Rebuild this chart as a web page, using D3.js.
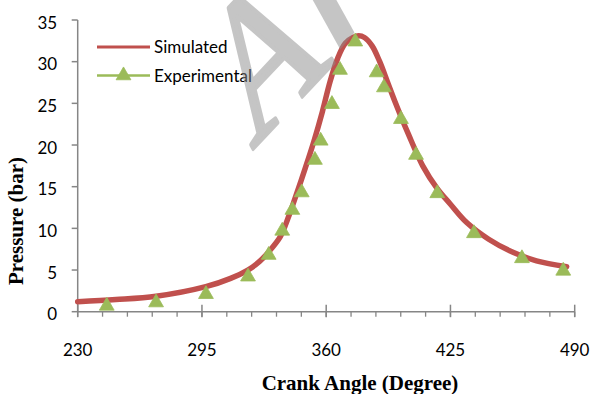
<!DOCTYPE html>
<html>
<head>
<meta charset="utf-8">
<script src="https://cdn.jsdelivr.net/npm/d3@7/dist/d3.min.js"></script>
<style>
  html, body { margin: 0; padding: 0; background: #fff; }
  svg { display: block; }
</style>
</head>
<body>
<div id="chart"></div>
<script>
// ── Data ───────────────────────────────────────────────────────────────────
const simAngle = [230, 250, 271, 297, 310, 319, 325, 330, 336, 340, 344, 349, 353.5, 358, 362, 366,
                  370, 374, 377, 380, 384, 388, 392, 396, 403, 410.5, 418, 425, 433.5, 445, 458, 470, 485.8];
const simPressure = [1.2, 1.45, 1.85, 3.0, 4.0, 5.0, 6.0, 7.2, 9.0, 11.2, 13.8, 17.2, 20.4, 24.0, 27.6, 30.4,
                     32.2, 32.9, 33.1, 32.9, 31.9, 30.0, 27.6, 25.2, 21.3, 17.5, 14.8, 12.9, 10.7, 8.7, 7.1, 6.1, 5.4];

const expAngle = [245.2, 271, 297.1, 319.1, 329.9, 337, 342.3, 347.2, 354.1, 357.1, 363, 367.2,
                  375.2, 386.4, 390.2, 399.1, 407, 418.1, 437.3, 462.4, 484];
const expPressure = [0.7, 1.1, 2.1, 4.2, 6.8, 9.7, 12.2, 14.3, 18.2, 20.5, 24.9, 29.0,
                     32.4, 28.7, 26.9, 23.1, 18.8, 14.2, 9.4, 6.4, 4.9];

const xTicks = [230, 295, 360, 425, 490];
const xMinor = d3.range(230, 491, 13);
const yTicks = [0, 5, 10, 15, 20, 25, 30, 35];

const SERIES = [
  { name: 'Simulated', color: '#c0504d' },
  { name: 'Experimental', color: '#9bbb59' },
];

// ── Layout ─────────────────────────────────────────────────────────────────
const W = 593, H = 394;
const AXIS = '#868686';
const LABEL_FONT = 'Lato, "Open Sans", sans-serif';
const TITLE_FONT = '"Liberation Serif", "Times New Roman", serif';

const x = d3.scaleLinear().domain([230, 490]).range([77.7, 574.7]);
const y = d3.scaleLinear().domain([0, 35]).range([311.7, 20]);

const svg = d3.select('#chart').append('svg').attr('width', W).attr('height', H);

// ── Axes ───────────────────────────────────────────────────────────────────
const gx = svg.append('g').attr('transform', `translate(0,${y(0)})`);
gx.append('line').attr('x1', x(230)).attr('x2', x(490)).attr('stroke', AXIS).attr('stroke-width', 1.5);
gx.selectAll('.minor').data(xMinor).join('line')
  .attr('x1', d => x(d)).attr('x2', d => x(d))
  .attr('y1', 0).attr('y2', 5)
  .attr('stroke', AXIS).attr('stroke-width', 1.3);
gx.selectAll('.major').data(xTicks).join('line')
  .attr('x1', d => x(d)).attr('x2', d => x(d))
  .attr('y1', -7).attr('y2', 5.5)
  .attr('stroke', AXIS).attr('stroke-width', 1.5);
gx.selectAll('text').data(xTicks).join('text')
  .attr('x', d => x(d)).attr('y', 44)
  .attr('text-anchor', 'middle')
  .attr('font-family', LABEL_FONT).attr('font-size', '17px').attr('fill', '#000')
  .text(d => d);

const gy = svg.append('g').attr('transform', `translate(${x(230)},0)`);
gy.append('line').attr('y1', y(35)).attr('y2', y(0)).attr('stroke', AXIS).attr('stroke-width', 1.5);
gy.selectAll('.tick').data(yTicks).join('line')
  .attr('x1', -6).attr('x2', 0)
  .attr('y1', d => y(d)).attr('y2', d => y(d))
  .attr('stroke', AXIS).attr('stroke-width', 1.5);
gy.selectAll('text').data(yTicks).join('text')
  .attr('x', -20.5).attr('y', d => y(d) + 8.5)
  .attr('text-anchor', 'end')
  .attr('font-family', LABEL_FONT).attr('font-size', '17px').attr('fill', '#000')
  .text(d => d);

// Axis titles
svg.append('text')
  .attr('x', 360).attr('y', 390)
  .attr('text-anchor', 'middle')
  .attr('font-family', TITLE_FONT).attr('font-weight', 'bold').attr('font-size', '21px')
  .text('Crank Angle (Degree)');
svg.append('text')
  .attr('transform', 'translate(23,221) rotate(-90)')
  .attr('text-anchor', 'middle')
  .attr('font-family', TITLE_FONT).attr('font-weight', 'bold').attr('font-size', '21px')
  .text('Pressure (bar)');

// ── Series ─────────────────────────────────────────────────────────────────
const sim = simAngle.map((a, i) => [a, simPressure[i]]);
const exp = expAngle.map((a, i) => [a, expPressure[i]]);

svg.append('path')
  .datum(sim)
  .attr('d', d3.line().x(d => x(d[0])).y(d => y(d[1])).curve(d3.curveCatmullRom.alpha(0.5)))
  .attr('fill', 'none')
  .attr('stroke', SERIES[0].color)
  .attr('stroke-width', 5.5)
  .attr('stroke-linecap', 'round')
  .attr('stroke-linejoin', 'round');

const tri = d3.symbol(d3.symbolTriangle, 95);
svg.selectAll('.exp').data(exp).join('path')
  .attr('class', 'exp')
  .attr('transform', d => `translate(${x(d[0])},${y(d[1])})`)
  .attr('d', tri)
  .attr('fill', SERIES[1].color)
  .attr('stroke', SERIES[1].color)
  .attr('stroke-width', 0.8);

// ── Legend ─────────────────────────────────────────────────────────────────
const legend = svg.append('g').attr('transform', 'translate(97,47)');
SERIES.forEach((s, i) => {
  const g = legend.append('g').attr('transform', `translate(0,${i * 28.5})`);
  g.append('line').attr('x1', 0).attr('x2', 53)
    .attr('stroke', s.color).attr('stroke-width', i === 0 ? 3 : 2.5);
  if (i === 1) g.append('path').attr('transform', 'translate(26.5,0)').attr('d', tri)
    .attr('fill', s.color).attr('stroke', s.color).attr('stroke-width', 0.8);
  g.append('text').attr('x', 57).attr('y', 6)
    .attr('font-family', LABEL_FONT).attr('font-size', '17px').attr('fill', '#000')
    .text(s.name);
});

// ── Watermark (skewed, semi-transparent, drawn over the plot) ─────────────
const wm = svg.append('g').attr('opacity', 0.5)
  .attr('fill', '#8c8c8c').attr('stroke', '#8c8c8c').attr('stroke-linejoin', 'round');
wm.append('text')
  .attr('transform', 'matrix(0.63,-0.67,0.49,0.87,252,150)')
  .attr('font-family', TITLE_FONT).attr('font-size', '182px').attr('stroke-width', 4)
  .text('A');
wm.append('text')
  .attr('transform', 'matrix(0.544,-0.65,0.495,0.89,333.7,57.3)')
  .attr('font-family', '"Liberation Sans", Arial, sans-serif').attr('font-weight', 'bold')
  .attr('font-size', '180px').attr('stroke-width', 0)
  .text('I');
</script>
</body>
</html>
